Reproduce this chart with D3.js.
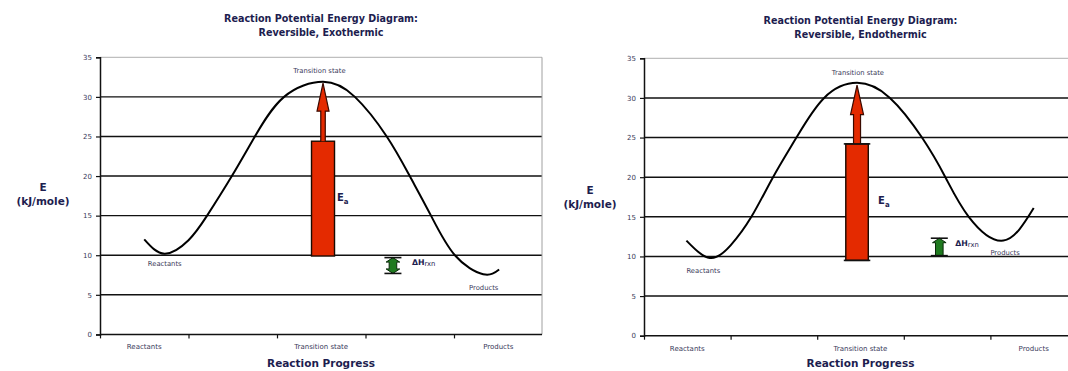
<!DOCTYPE html>
<html><head><meta charset="utf-8">
<script src="https://cdn.jsdelivr.net/npm/d3@7"></script>
<style>body{margin:0;background:#fff} svg{display:block}</style>
</head><body>
<svg id="c" width="1068" height="371"></svg>
<script>
// ---------- data ----------
const categories = ["Reactants", "Transition state", "Products"];
const categoryPos = [0.5, 2.5, 4.5];
const yTickValues = [0, 5, 10, 15, 20, 25, 30, 35];
const xTickValues = [0, 1, 2, 3, 4];
const titlesExo = ["Reaction Potential Energy Diagram:", "Reversible, Exothermic"];
const titlesEndo = ["Reaction Potential Energy Diagram:", "Reversible, Endothermic"];
const yTitle = ["E", "(kJ/mole)"];
const xTitle = "Reaction Progress";

const exoProgress = [0.5, 0.73, 1.0, 1.21, 1.49, 1.75, 2.08, 2.52, 2.88, 3.24, 3.50, 3.74, 4.01, 4.33, 4.51];
const exoEnergy   = [12.0, 10.2, 11.9, 15, 20, 25, 30, 31.9, 30, 25, 20, 15, 10, 7.6, 8.2];
const endoProgress = [0.49, 0.76, 1.0, 1.24, 1.49, 1.76, 2.08, 2.46, 2.84, 3.21, 3.48, 3.75, 4.15, 4.5];
const endoEnergy   = [12.0, 9.8, 11.4, 15, 20, 25, 30, 31.9, 30, 25, 20, 15, 12.0, 16.1];

// Ea arrow: [bottom, bar top, head base, tip]
const exoEaArrow = [9.9, 24.4, 28.2, 31.75];
const endoEaArrow = [9.5, 24.2, 27.9, 31.6];
// delta H arrow: [low, high]
const exoDeltaH = [7.7, 9.7];
const endoDeltaH = [10.1, 12.3];

// ---------- layout ----------
const svg = d3.select("#c");
const navy = "#1d1d4f";
const labelCol = "#3a3a5a";

function drawChart(cfg) {
  const x = d3.scaleLinear().domain([0, 5]).range([cfg.left, cfg.right]);
  const y = d3.scaleLinear().domain([0, 35]).range([cfg.bottom, cfg.top]);
  const g = svg.append("g");

  // titles
  const cx = (cfg.left + cfg.plotRight) / 2;
  g.append("text").attr("x", cx).attr("y", cfg.titleY).attr("text-anchor", "middle")
    .attr("font-family", "DejaVu Sans").attr("font-weight", "bold").attr("font-size", 9.6)
    .attr("fill", navy).text(cfg.titles[0]);
  g.append("text").attr("x", cx).attr("y", cfg.titleY + 14).attr("text-anchor", "middle")
    .attr("font-family", "DejaVu Sans").attr("font-weight", "bold").attr("font-size", 9.6)
    .attr("fill", navy).text(cfg.titles[1]);

  // gridlines
  g.append("g").selectAll("line").data(yTickValues.filter(v => v > 0 && v < 35)).join("line")
    .attr("x1", cfg.left).attr("x2", cfg.plotRight)
    .attr("y1", d => y(d)).attr("y2", d => y(d))
    .attr("stroke", "#111").attr("stroke-width", 1.4);
  // top border and right border
  g.append("line").attr("x1", cfg.left).attr("x2", cfg.plotRight).attr("y1", y(35)).attr("y2", y(35))
    .attr("stroke", "#b0b0b0").attr("stroke-width", 1);
  g.append("line").attr("x1", cfg.plotRight).attr("x2", cfg.plotRight).attr("y1", y(35)).attr("y2", y(0))
    .attr("stroke", "#a0a0a0").attr("stroke-width", 1);

  // y axis
  const ya = d3.axisLeft(y).tickValues(yTickValues).tickSize(4).tickPadding(4).tickFormat(d3.format("d"));
  const yg = g.append("g").attr("transform", `translate(${cfg.left},0)`).call(ya);
  yg.select(".domain").attr("stroke", "#111").attr("stroke-width", 1.5);
  yg.selectAll(".tick line").attr("stroke", "#111").attr("stroke-width", 1.2);
  yg.selectAll("text").attr("font-family", "DejaVu Sans").attr("font-size", 7).attr("fill", labelCol);

  // x axis
  const xa = d3.axisBottom(x).tickValues(xTickValues).tickSize(4).tickFormat("");
  const xg = g.append("g").attr("transform", `translate(0,${cfg.bottom})`).call(xa);
  xg.select(".domain").remove();
  g.append("line").attr("x1", cfg.left).attr("x2", cfg.plotRight).attr("y1", cfg.bottom).attr("y2", cfg.bottom)
    .attr("stroke", "#111").attr("stroke-width", 1.5);
  xg.selectAll(".tick line").attr("stroke", "#111").attr("stroke-width", 1.2);
  g.append("g").selectAll("text").data(categories).join("text")
    .attr("x", (d, i) => x(categoryPos[i])).attr("y", cfg.bottom + 15)
    .attr("text-anchor", "middle").attr("font-family", "DejaVu Sans").attr("font-size", 7)
    .attr("fill", labelCol).text(d => d);

  // axis titles
  g.append("text").attr("x", cx).attr("y", 367).attr("text-anchor", "middle")
    .attr("font-family", "DejaVu Sans").attr("font-weight", "bold").attr("font-size", 10.5)
    .attr("fill", navy).text(xTitle);
  g.append("text").attr("x", cfg.yTitleX).attr("y", cfg.yTitleY).attr("text-anchor", "middle")
    .attr("font-family", "DejaVu Sans").attr("font-weight", "bold").attr("font-size", 10.5)
    .attr("fill", navy).text(yTitle[0]);
  g.append("text").attr("x", cfg.yTitleX).attr("y", cfg.yTitleY + 14).attr("text-anchor", "middle")
    .attr("font-family", "DejaVu Sans").attr("font-weight", "bold").attr("font-size", 10.5)
    .attr("fill", navy).text(yTitle[1]);

  // curve
  const pts = cfg.progress.map((p, i) => [p, cfg.energy[i]]);
  const line = d3.line().x(d => x(d[0])).y(d => y(d[1])).curve(d3.curveNatural);
  g.append("path").attr("d", line(pts)).attr("fill", "none").attr("stroke", "#000").attr("stroke-width", 2);

  // Ea arrow
  const [eb, et, eh, etip] = cfg.ea;
  const ax = x(cfg.eaX);
  const bw = cfg.barW, sw = cfg.shaftW, hw = cfg.headW;
  g.append("rect").attr("x", ax - bw / 2).attr("y", y(et)).attr("width", bw).attr("height", y(eb) - y(et))
    .attr("fill", "#e42a00").attr("stroke", "#1a0a00").attr("stroke-width", 1.4);
  const arrowPts = [[ax - sw / 2, y(et)], [ax - sw / 2, y(eh)], [ax - hw / 2, y(eh)], [ax, y(etip)],
                    [ax + hw / 2, y(eh)], [ax + sw / 2, y(eh)], [ax + sw / 2, y(et)]];
  g.append("path").attr("d", d3.line()(arrowPts)).attr("fill", "#e42a00").attr("stroke", "#3a0a00").attr("stroke-width", 1.2);
  if (cfg.caps) {
    [et, eb].forEach(v => g.append("line").attr("x1", ax - bw / 2 - 2).attr("x2", ax + bw / 2 + 2)
      .attr("y1", y(v)).attr("y2", y(v)).attr("stroke", "#111").attr("stroke-width", 1.6));
  }
  const eaT = g.append("text").attr("x", ax + cfg.eaLabelDx).attr("y", y(cfg.eaLabelE))
    .attr("font-family", "DejaVu Sans").attr("font-weight", "bold").attr("font-size", 10).attr("fill", navy);
  eaT.append("tspan").text("E");
  eaT.append("tspan").attr("font-size", 7).attr("dy", 3).text("a");

  // delta H arrow
  const dx = x(cfg.dhX);
  const [dl, dh] = cfg.dh;
  const yt = y(dh), yb = y(dl);
  const body = 3.8, head = 6.8, hh = 4.5;
  let poly;
  if (cfg.dhBoth) {
    poly = [[dx, yt], [dx + head, yt + hh], [dx + body, yt + hh], [dx + body, yb - hh], [dx + head, yb - hh], [dx, yb],
            [dx - head, yb - hh], [dx - body, yb - hh], [dx - body, yt + hh], [dx - head, yt + hh]];
  } else {
    poly = [[dx, yt], [dx + head, yt + hh], [dx + body, yt + hh], [dx + body, yb], [dx - body, yb],
            [dx - body, yt + hh], [dx - head, yt + hh]];
  }
  g.append("path").attr("d", d3.line()(poly) + "Z").attr("fill", "#1f7a1f").attr("stroke", "#0a2a0a").attr("stroke-width", 1);
  [yt, yb].forEach(v => g.append("line").attr("x1", dx - 8.5).attr("x2", dx + 8.5).attr("y1", v).attr("y2", v)
    .attr("stroke", "#111").attr("stroke-width", 1.6));
  const dhT = g.append("text").attr("x", dx + cfg.dhLabelDx).attr("y", y(cfg.dhLabelE))
    .attr("font-family", "DejaVu Sans").attr("font-size", 7.8).attr("fill", navy);
  dhT.append("tspan").attr("font-weight", "bold").text("ΔH");
  dhT.append("tspan").attr("font-size", 6.8).attr("dy", 1).text("rxn");

  // in-plot labels
  cfg.notes.forEach(n => g.append("text").attr("x", x(n.p)).attr("y", y(n.e)).attr("text-anchor", n.anchor)
    .attr("font-family", "DejaVu Sans").attr("font-size", 6.8).attr("fill", labelCol).text(n.t));
}

drawChart({
  left: 100, right: 542.5, plotRight: 542, top: 57.3, bottom: 334.4,
  titleY: 22, yTitleX: 43, yTitleY: 191,
  titles: titlesExo, progress: exoProgress, energy: exoEnergy,
  ea: exoEaArrow, eaX: 2.52, barW: 23, shaftW: 4.5, headW: 12, caps: false,
  eaLabelDx: 14, eaLabelE: 16.8,
  dh: exoDeltaH, dhX: 3.31, dhBoth: true, dhLabelDx: 19, dhLabelE: 8.8,
  notes: [
    { t: categories[0], p: 0.54, e: 8.7, anchor: "start" },
    { t: "Transition state", p: 2.48, e: 33.0, anchor: "middle" },
    { t: categories[2], p: 4.17, e: 5.6, anchor: "start" }
  ]
});

drawChart({
  left: 644, right: 1077, plotRight: 1077, top: 58.3, bottom: 335.7,
  titleY: 24, yTitleX: 590, yTitleY: 194,
  titles: titlesEndo, progress: endoProgress, energy: endoEnergy,
  ea: endoEaArrow, eaX: 2.46, barW: 22.5, shaftW: 7, headW: 13, caps: true,
  eaLabelDx: 21, eaLabelE: 16.6,
  dh: endoDeltaH, dhX: 3.41, dhBoth: false, dhLabelDx: 16, dhLabelE: 11.3,
  notes: [
    { t: categories[0], p: 0.49, e: 7.9, anchor: "start" },
    { t: "Transition state", p: 2.47, e: 32.9, anchor: "middle" },
    { t: categories[2], p: 4.0, e: 10.2, anchor: "start" }
  ]
});
</script>
</body></html>
